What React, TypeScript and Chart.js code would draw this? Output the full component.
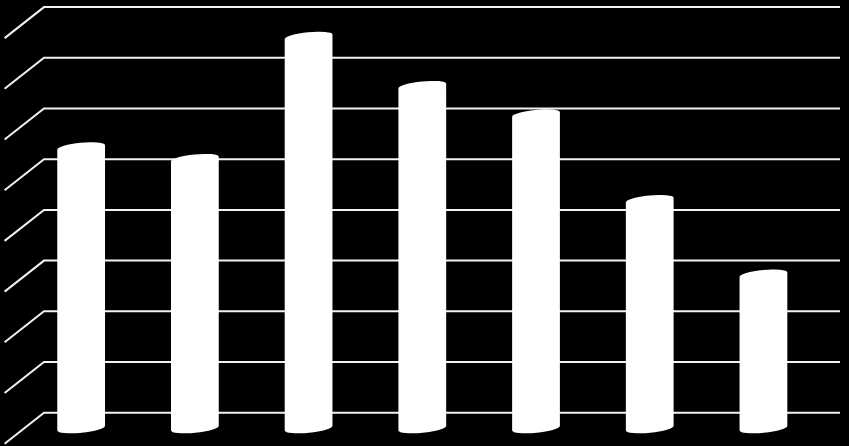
import { useEffect, useRef } from 'react';
import { Chart, registerables, Plugin } from 'chart.js';

Chart.register(...registerables);

// no labels are shown in the picture, so categories are just numbered
const categories = ['1', '2', '3', '4', '5', '6', '7'];
const values = [5.54, 5.31, 7.72, 6.75, 6.19, 4.5, 3.03];
const gridValues = [0, 1, 2, 3, 4, 5, 6, 7, 8];

// depth offset of the fake 3D floor (half depth in px)
const DEPTH_X = 19.7;
const DEPTH_Y = 15.5;
const TILT = -0.1;

const floorGrid: Plugin<'bar'> = {
  id: 'floorGrid',
  beforeDatasetsDraw(chart) {
    const { ctx, chartArea, scales } = chart;
    const y = scales.y;
    ctx.save();
    ctx.strokeStyle = '#f2f2f2';
    ctx.lineWidth = 2;
    gridValues.forEach(v => {
      const py = y.getPixelForValue(v);
      ctx.beginPath();
      ctx.moveTo(chartArea.left - DEPTH_X, py + DEPTH_Y);
      ctx.lineTo(chartArea.left + DEPTH_X, py - DEPTH_Y);
      ctx.lineTo(chartArea.right + DEPTH_X, py - DEPTH_Y);
      ctx.stroke();
    });
    ctx.restore();
  },
};

const cylinders: Plugin<'bar'> = {
  id: 'cylinders',
  afterDatasetsDraw(chart) {
    const { ctx } = chart;
    const meta = chart.getDatasetMeta(0);
    ctx.save();
    ctx.fillStyle = '#ffffff';
    meta.data.forEach(el => {
      const { x, y, base, width } = el.getProps(['x', 'y', 'base', 'width'], true) as any;
      const rx = width / 2;
      const ry = 4.5;
      ctx.beginPath();
      ctx.ellipse(x, y, rx, ry, TILT, Math.PI, Math.PI * 2);
      ctx.lineTo(x + rx * Math.cos(TILT), base + rx * Math.sin(TILT));
      ctx.ellipse(x, base, rx, ry, TILT, 0, Math.PI);
      ctx.closePath();
      ctx.fill();
    });
    ctx.restore();
  },
};

const App = () => {
  const chartRef = useRef<HTMLCanvasElement>(null);
  const chartInstance = useRef<Chart | null>(null);

  useEffect(() => {
    if (!chartRef.current) return;
    if (chartInstance.current) {
      chartInstance.current.destroy();
    }
    const ctx = chartRef.current.getContext('2d');
    if (!ctx) return;

    chartInstance.current = new Chart(ctx, {
      type: 'bar',
      data: {
        labels: categories,
        datasets: [{
          data: values,
          backgroundColor: 'rgba(0,0,0,0)',
          borderWidth: 0,
          barThickness: 48,
        }]
      },
      options: {
        responsive: false,
        animation: false,
        layout: {
          padding: { left: 24.3, right: 28.7, top: 22.6, bottom: 17.8 }
        },
        scales: {
          x: { display: false },
          y: { display: false, min: 0, max: 8 },
        },
        plugins: {
          legend: { display: false },
          tooltip: { enabled: false },
        },
      },
      plugins: [floorGrid, cylinders],
    });

    return () => {
      if (chartInstance.current) {
        chartInstance.current.destroy();
        chartInstance.current = null;
      }
    };
  }, []);

  return (
    <div style={{ position: 'fixed', left: 0, top: 0, width: 849, height: 446, background: '#000' }}>
      <canvas ref={chartRef} width={849} height={446} style={{ display: 'block' }} />
    </div>
  );
};

export default App;
